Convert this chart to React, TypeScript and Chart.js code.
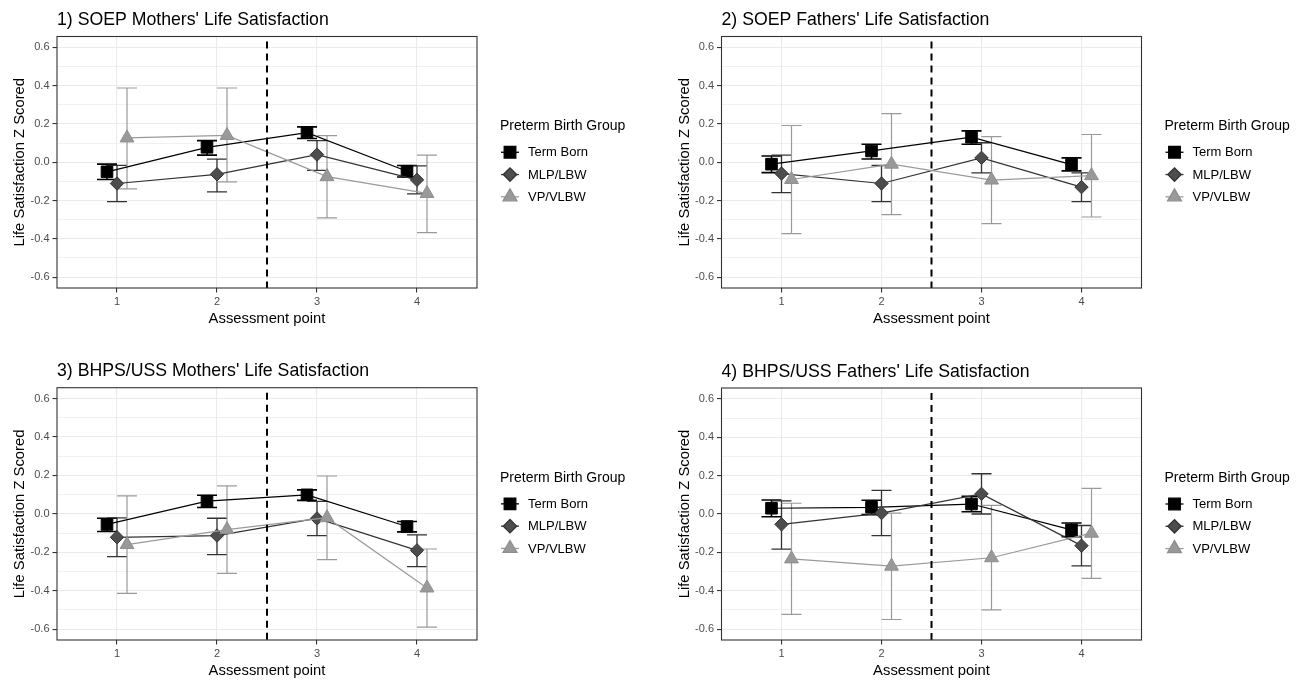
import React, { useEffect, useRef } from 'react';
import { Chart, registerables } from 'chart.js';
import { drawPoint } from 'chart.js/helpers';

Chart.register(...registerables);

const FONT = "'Liberation Sans', Arial, Helvetica, sans-serif";
Chart.defaults.font.family = FONT;

// ---------- data ----------
const assessmentPoints = [1, 2, 3, 4];
const xTickLabels = ['1', '2', '3', '4'];
const yTickValues = [-0.6, -0.5, -0.4, -0.3, -0.2, -0.1, 0, 0.1, 0.2, 0.3, 0.4, 0.5, 0.6];
const groupNames = ['Term Born', 'MLP/LBW', 'VP/VLBW'];
const legendTitle = 'Preterm Birth Group';
const yAxisTitle = 'Life Satisfaction Z Scored';
const xAxisTitle = 'Assessment point';
const cutPoint = 2.5;
const panelTitles = [
  "1) SOEP Mothers' Life Satisfaction",
  "2) SOEP Fathers' Life Satisfaction",
  "3) BHPS/USS Mothers' Life Satisfaction",
  "4) BHPS/USS Fathers' Life Satisfaction",
];

// 1) SOEP mothers
const soepMothersTermMean = [-0.05, 0.078, 0.155, -0.047];
const soepMothersTermLow = [-0.09, 0.037, 0.124, -0.077];
const soepMothersTermHigh = [-0.01, 0.113, 0.185, -0.017];
const soepMothersMlpMean = [-0.111, -0.063, 0.04, -0.092];
const soepMothersMlpLow = [-0.206, -0.155, -0.042, -0.165];
const soepMothersMlpHigh = [-0.016, 0.016, 0.113, -0.019];
const soepMothersVpMean = [0.127, 0.14, -0.075, -0.163];
const soepMothersVpLow = [-0.139, -0.103, -0.291, -0.368];
const soepMothersVpHigh = [0.388, 0.388, 0.139, 0.037];

// 2) SOEP fathers
const soepFathersTermMean = [-0.01, 0.059, 0.131, -0.012];
const soepFathersTermLow = [-0.054, 0.017, 0.094, -0.045];
const soepFathersTermHigh = [0.033, 0.094, 0.164, 0.023];
const soepFathersMlpMean = [-0.059, -0.111, 0.023, -0.13];
const soepFathersMlpLow = [-0.159, -0.206, -0.056, -0.206];
const soepFathersMlpHigh = [0.037, -0.017, 0.102, -0.056];
const soepFathersVpMean = [-0.09, -0.01, -0.093, -0.07];
const soepFathersVpLow = [-0.373, -0.274, -0.321, -0.286];
const soepFathersVpHigh = [0.192, 0.254, 0.134, 0.145];

// 3) BHPS/USS mothers
const bhpsMothersTermMean = [-0.055, 0.066, 0.099, -0.066];
const bhpsMothersTermLow = [-0.092, 0.033, 0.07, -0.094];
const bhpsMothersTermHigh = [-0.023, 0.097, 0.125, -0.04];
const bhpsMothersMlpMean = [-0.122, -0.113, -0.024, -0.19];
const bhpsMothersMlpLow = [-0.223, -0.212, -0.113, -0.275];
const bhpsMothersMlpHigh = [-0.021, -0.023, 0.065, -0.11];
const bhpsMothersVpMean = [-0.16, -0.082, -0.02, -0.386];
const bhpsMothersVpLow = [-0.414, -0.31, -0.238, -0.59];
const bhpsMothersVpHigh = [0.094, 0.146, 0.197, -0.183];

// 4) BHPS/USS fathers
const bhpsFathersTermMean = [0.03, 0.035, 0.052, -0.083];
const bhpsFathersTermLow = [-0.014, -0.003, 0.012, -0.118];
const bhpsFathersTermHigh = [0.073, 0.072, 0.092, -0.047];
const bhpsFathersMlpMean = [-0.054, 0.005, 0.105, -0.165];
const bhpsFathersMlpLow = [-0.183, -0.113, 0.0, -0.27];
const bhpsFathersMlpHigh = [0.068, 0.123, 0.21, -0.06];
const bhpsFathersVpMean = [-0.234, -0.272, -0.228, -0.1];
const bhpsFathersVpLow = [-0.523, -0.55, -0.5, -0.336];
const bhpsFathersVpHigh = [0.056, 0.005, 0.045, 0.134];

// ---------- styles ----------
const groupStyles = [
  { offset: -0.1, pointStyle: 'rect', radius: 8.2, fill: '#000000', edge: '#000000', line: '#000000', lineWidth: 1.2, barWidth: 1.6, order: 3 },
  { offset: 0, pointStyle: 'rectRot', radius: 6.7, fill: '#4D4D4D', edge: '#333333', line: '#333333', lineWidth: 1.2, barWidth: 1.3, order: 2 },
  { offset: 0.1, pointStyle: 'triangle', radius: 8, fill: '#999999', edge: '#8F8F8F', line: '#9A9A9A', lineWidth: 1.2, barWidth: 1.2, order: 1 },
];

const panelSeries = [
  [
    [soepMothersTermMean, soepMothersTermLow, soepMothersTermHigh],
    [soepMothersMlpMean, soepMothersMlpLow, soepMothersMlpHigh],
    [soepMothersVpMean, soepMothersVpLow, soepMothersVpHigh],
  ],
  [
    [soepFathersTermMean, soepFathersTermLow, soepFathersTermHigh],
    [soepFathersMlpMean, soepFathersMlpLow, soepFathersMlpHigh],
    [soepFathersVpMean, soepFathersVpLow, soepFathersVpHigh],
  ],
  [
    [bhpsMothersTermMean, bhpsMothersTermLow, bhpsMothersTermHigh],
    [bhpsMothersMlpMean, bhpsMothersMlpLow, bhpsMothersMlpHigh],
    [bhpsMothersVpMean, bhpsMothersVpLow, bhpsMothersVpHigh],
  ],
  [
    [bhpsFathersTermMean, bhpsFathersTermLow, bhpsFathersTermHigh],
    [bhpsFathersMlpMean, bhpsFathersMlpLow, bhpsFathersMlpHigh],
    [bhpsFathersVpMean, bhpsFathersVpLow, bhpsFathersVpHigh],
  ],
];

const panelLayouts = [
  { left: 0, top: 0, w: 655, h: 340, L: 57, T: 36.5, R: 477, B: 288 },
  { left: 655, top: 0, w: 656, h: 340, L: 66.5, T: 36.5, R: 486.5, B: 288 },
  { left: 0, top: 340, w: 655, h: 340, L: 57, T: 47.7, R: 477, B: 300 },
  { left: 655, top: 340, w: 656, h: 340, L: 66.5, T: 48, R: 486.5, B: 300 },
];

const TITLE_SIZE = 17.7;
const AXIS_TITLE_SIZE = 14.8;
const isMajor = (v: number) => Math.round(v * 10) % 2 === 0;

const decorPlugin = {
  id: 'decor',
  beforeDatasetsDraw(chart: any, _args: any, opts: any) {
    const { ctx, scales } = chart;
    const x = scales.x;
    const y = scales.y;
    ctx.save();
    opts.series.forEach((s: number[][], gi: number) => {
      const st = groupStyles[gi];
      ctx.strokeStyle = st.line;
      ctx.lineWidth = st.barWidth;
      s[1].forEach((lo: number, i: number) => {
        const hi = s[2][i];
        const xv = assessmentPoints[i] + st.offset;
        const xc = x.getPixelForValue(xv);
        const x0 = x.getPixelForValue(xv - 0.1);
        const x1 = x.getPixelForValue(xv + 0.1);
        const yl = y.getPixelForValue(lo);
        const yh = y.getPixelForValue(hi);
        ctx.beginPath();
        ctx.moveTo(xc, yl);
        ctx.lineTo(xc, yh);
        ctx.moveTo(x0, yl);
        ctx.lineTo(x1, yl);
        ctx.moveTo(x0, yh);
        ctx.lineTo(x1, yh);
        ctx.stroke();
      });
    });
    ctx.restore();
  },
  afterDatasetsDraw(chart: any) {
    const { ctx, chartArea, scales } = chart;
    const xp = scales.x.getPixelForValue(cutPoint);
    ctx.save();
    ctx.strokeStyle = '#000000';
    ctx.lineWidth = 2;
    ctx.setLineDash([7, 5]);
    ctx.beginPath();
    ctx.moveTo(xp, chartArea.top + 5);
    ctx.lineTo(xp, chartArea.bottom);
    ctx.stroke();
    ctx.restore();
  },
  afterDraw(chart: any) {
    const { ctx, chartArea } = chart;
    ctx.save();
    ctx.strokeStyle = '#333333';
    ctx.lineWidth = 1.1;
    ctx.strokeRect(chartArea.left, chartArea.top, chartArea.right - chartArea.left, chartArea.bottom - chartArea.top);
    // legend
    const cy = (chartArea.top + chartArea.bottom) / 2;
    const x0 = chartArea.right;
    ctx.fillStyle = '#000000';
    ctx.textAlign = 'left';
    ctx.textBaseline = 'middle';
    ctx.font = `14px ${FONT}`;
    ctx.fillText(legendTitle, x0 + 23, cy - 36);
    groupNames.forEach((name, i) => {
      const st = groupStyles[i];
      const yy = cy - 10 + i * 22.3;
      ctx.strokeStyle = st.line;
      ctx.lineWidth = 1.3;
      ctx.beginPath();
      ctx.moveTo(x0 + 24, yy);
      ctx.lineTo(x0 + 42, yy);
      ctx.stroke();
      ctx.fillStyle = st.fill;
      ctx.strokeStyle = st.edge;
      drawPoint(ctx, { pointStyle: st.pointStyle, radius: st.radius, rotation: 0, borderWidth: 1 } as any, x0 + 33, yy);
      ctx.fillStyle = '#000000';
      ctx.font = `13px ${FONT}`;
      ctx.fillText(name, x0 + 51, yy + 0.5);
    });
    ctx.restore();
  },
};

function Panel({ index }: { index: number }) {
  const ref = useRef<HTMLCanvasElement>(null);
  const lay = panelLayouts[index];
  useEffect(() => {
    const series = panelSeries[index];
    const titleLH = TITLE_SIZE * 1.2;
    const titleCenter = lay.T - 16.3;
    const titlePadTop = titleCenter - titleLH / 2;
    const titlePadBottom = lay.T - titlePadTop - titleLH;
    const axisLH = AXIS_TITLE_SIZE * 1.2;
    const chart = new Chart(ref.current as HTMLCanvasElement, {
      type: 'scatter',
      data: {
        datasets: series.map((s, gi) => {
          const st = groupStyles[gi];
          return {
            label: groupNames[gi],
            data: s[0].map((v, i) => ({ x: assessmentPoints[i] + st.offset, y: v })),
            showLine: true,
            borderColor: st.line,
            borderWidth: st.lineWidth,
            backgroundColor: st.fill,
            pointStyle: st.pointStyle as any,
            pointRadius: st.radius,
            pointBackgroundColor: st.fill,
            pointBorderColor: st.edge,
            pointBorderWidth: 1,
            order: st.order,
            tension: 0,
          };
        }),
      },
      options: {
        responsive: false,
        animation: false,
        devicePixelRatio: 1,
        events: [],
        layout: { padding: { left: 0, top: 0, bottom: 0, right: lay.w - lay.R } },
        plugins: {
          legend: { display: false },
          tooltip: { enabled: false },
          title: {
            display: true,
            text: panelTitles[index],
            align: 'start',
            fullSize: false,
            color: '#000000',
            font: { size: TITLE_SIZE, weight: 'normal', family: FONT, lineHeight: 1.2 },
            padding: { top: titlePadTop, bottom: titlePadBottom },
          },
          decor: { series },
        } as any,
        scales: {
          x: {
            type: 'linear',
            min: 0.4,
            max: 4.6,
            afterBuildTicks: (s: any) => {
              s.ticks = assessmentPoints.map((v) => ({ value: v }));
            },
            afterFit: (s: any) => {
              s.height = lay.h - lay.B;
            },
            ticks: {
              autoSkip: false,
              maxRotation: 0,
              padding: 3,
              color: '#4D4D4D',
              font: { size: 11 },
              callback: (v: any) => xTickLabels[assessmentPoints.indexOf(Number(v))] ?? '',
            },
            grid: { color: '#EBEBEB', lineWidth: 1.1, tickColor: '#333333', tickLength: 4.5, drawTicks: true },
            border: { display: false },
            title: {
              display: true,
              text: xAxisTitle,
              color: '#000000',
              font: { size: AXIS_TITLE_SIZE, lineHeight: 1.2 },
              padding: { top: 0, bottom: lay.h - lay.B - 31 - axisLH / 2 },
            },
          },
          y: {
            type: 'linear',
            min: -0.657,
            max: 0.657,
            afterBuildTicks: (s: any) => {
              s.ticks = yTickValues.map((v) => ({ value: v }));
            },
            afterFit: (s: any) => {
              s.width = lay.L;
            },
            ticks: {
              autoSkip: false,
              padding: 3,
              color: '#4D4D4D',
              font: { size: 11 },
              callback: (v: any) => (isMajor(Number(v)) ? Number(v).toFixed(1) : ''),
            },
            grid: {
              color: '#EBEBEB',
              lineWidth: (c: any) => (c.tick && isMajor(c.tick.value) ? 1.1 : 0.7),
              tickColor: (c: any) => (c.tick && isMajor(c.tick.value) ? '#333333' : 'rgba(0,0,0,0)'),
              tickLength: 4.5,
              drawTicks: true,
            },
            border: { display: false },
            title: {
              display: true,
              text: yAxisTitle,
              color: '#000000',
              font: { size: AXIS_TITLE_SIZE, lineHeight: 1.2 },
              padding: { top: lay.L - 36.7 - axisLH / 2, bottom: 0 },
            },
          },
        } as any,
      },
      plugins: [decorPlugin],
    });
    return () => chart.destroy();
  }, []);
  return (
    <canvas
      ref={ref}
      width={lay.w}
      height={lay.h}
      style={{ position: 'absolute', left: lay.left, top: lay.top, width: lay.w, height: lay.h }}
    />
  );
}

export default function App() {
  return (
    <div style={{ position: 'absolute', left: 0, top: 0, width: 1311, height: 680, background: '#ffffff' }}>
      {panelTitles.map((_, i) => (
        <Panel key={i} index={i} />
      ))}
    </div>
  );
}
